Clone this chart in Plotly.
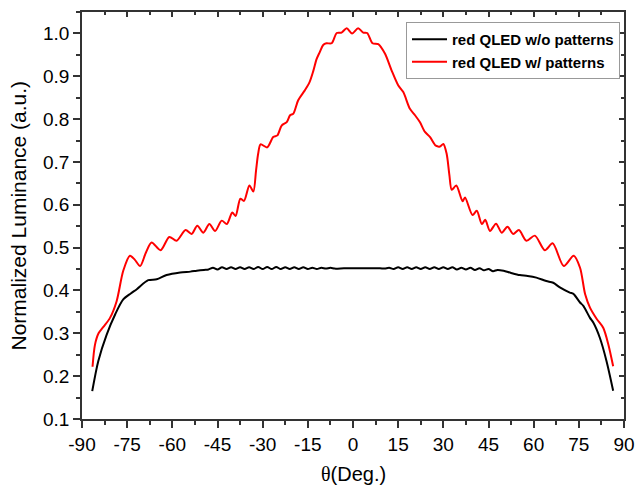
import plotly.graph_objects as go

# ---- data ----
red_x = [-86.5, -85.7, -84.5, -82.9, -80.7, -78.5, -76.3, -74.1, -72.5, -70.7, -68.8, -66.9,
         -63.9, -61.0, -58.6, -55.6, -53.6, -51.7, -49.7, -47.7, -45.8, -43.6, -41.9, -40.1,
         -39.0, -37.4, -36.2, -34.4, -33.1, -32.2, -31.5, -30.7, -28.5, -26.5, -25.1, -23.7,
         -22.0, -20.9, -19.8, -18.2, -16.0, -14.5, -13.2, -12.1, -11.0, -9.9, -8.8, -7.1,
         -5.4, -3.8, -2.1, -0.3, 1.7, 3.4, 4.7, 6.5, 8.4, 10.6, 12.8, 15.0, 16.7, 18.9,
         20.6, 22.2, 23.9, 25.6, 27.5, 28.9, 30.0, 31.1, 32.0, 32.8, 34.3, 36.4, 37.2,
         39.7, 41.1, 42.8, 43.9, 45.5, 47.5, 49.4, 51.3, 53.2, 55.1, 57.6, 60.4, 63.7,
         66.3, 70.0, 73.3, 75.4, 77.1, 78.7, 81.0, 83.1, 84.8, 86.4]
red_y = [0.222, 0.273, 0.300, 0.315, 0.336, 0.375, 0.446, 0.481, 0.472, 0.457, 0.488, 0.512,
         0.494, 0.525, 0.516, 0.541, 0.532, 0.551, 0.535, 0.555, 0.539, 0.563, 0.555, 0.582,
         0.574, 0.614, 0.609, 0.645, 0.631, 0.680, 0.719, 0.741, 0.734, 0.758, 0.762, 0.785,
         0.793, 0.809, 0.813, 0.844, 0.867, 0.885, 0.912, 0.940, 0.957, 0.973, 0.977, 0.977,
         1.001, 1.002, 1.012, 1.000, 1.012, 1.002, 1.001, 0.977, 0.975, 0.953, 0.914, 0.879,
         0.863, 0.824, 0.809, 0.793, 0.770, 0.758, 0.738, 0.736, 0.742, 0.719, 0.670, 0.635,
         0.645, 0.608, 0.617, 0.576, 0.586, 0.555, 0.565, 0.539, 0.556, 0.535, 0.549, 0.532,
         0.541, 0.516, 0.528, 0.494, 0.510, 0.457, 0.481, 0.453, 0.391, 0.360, 0.333, 0.313,
         0.274, 0.223]

black_x = [-86.6, -84.6, -81.8, -79.0, -76.3, -73.8, -71.8, -68.0, -65.2, -61.9, -57.4,
           -54.0, -51.9, -49.5,
           -48.0, -46.5, -45.0, -43.5, -42.0, -40.5, -39.0, -37.5, -36.0, -34.5, -33.0,
           -31.5, -30.0, -28.5, -27.0, -25.5, -24.0, -22.5, -21.0, -19.5, -18.0, -16.5,
           -15.0, -13.5, -12.0, -10.5, -9.0, -7.5, -6.0,
           -3.0, 0.0, 3.0, 6.0, 9.0,
           10.5, 12.0, 13.5, 15.0, 16.5, 18.0, 19.5, 21.0, 22.5, 24.0, 25.5, 27.0, 28.5,
           30.0, 31.5, 33.0, 34.5, 36.0, 37.5, 39.0, 40.5, 42.0, 43.5, 45.0, 46.5, 48.0,
           50.0, 52.5, 55.4, 58.0, 60.9, 64.2, 66.5, 68.7, 72.0, 73.2, 75.4, 76.5, 78.7,
           79.8, 82.0, 84.2, 86.4]
black_y = [0.165, 0.235, 0.297, 0.344, 0.379, 0.393, 0.403, 0.424, 0.426, 0.436, 0.442,
           0.444, 0.446, 0.448,
           0.449, 0.453, 0.449, 0.454, 0.450, 0.454, 0.450, 0.454, 0.450, 0.454, 0.450,
           0.455, 0.450, 0.455, 0.450, 0.455, 0.450, 0.454, 0.450, 0.454, 0.450, 0.454,
           0.450, 0.453, 0.450, 0.453, 0.451, 0.453, 0.451,
           0.452, 0.452, 0.452, 0.452, 0.452,
           0.451, 0.453, 0.450, 0.454, 0.450, 0.454, 0.450, 0.454, 0.450, 0.454, 0.450,
           0.454, 0.450, 0.454, 0.450, 0.454, 0.449, 0.453, 0.449, 0.453, 0.448, 0.452,
           0.447, 0.450, 0.445, 0.448,
           0.446, 0.441, 0.436, 0.434, 0.430, 0.422, 0.418, 0.407, 0.395, 0.392, 0.372,
           0.364, 0.336, 0.325, 0.289, 0.235, 0.166]

x_ticks = [-90, -75, -60, -45, -30, -15, 0, 15, 30, 45, 60, 75, 90]
y_ticks = [0.1, 0.2, 0.3, 0.4, 0.5, 0.6, 0.7, 0.8, 0.9, 1.0]

FONT = "Liberation Sans, Arial, sans-serif"
AX = "#333333"

fig = go.Figure()
fig.add_trace(go.Scatter(x=black_x, y=black_y, mode="lines", name="<b>red QLED w/o patterns</b>",
                         line=dict(color="black", width=2, shape="spline", smoothing=0.8)))
fig.add_trace(go.Scatter(x=red_x, y=red_y, mode="lines", name="<b>red QLED w/ patterns</b>",
                         line=dict(color="#ff0000", width=2, shape="spline", smoothing=0.8)))

L, R, T, B = 82, 12, 12, 66
W, H = 636, 485
pw, ph = W - L - R, H - T - B

fig.update_layout(
    width=W, height=H,
    margin=dict(l=L, r=R, t=T, b=B),
    paper_bgcolor="white", plot_bgcolor="white",
    font=dict(family=FONT, color="black"),
    showlegend=True,
    legend=dict(x=(620 - L) / pw, y=(H - B - 22) / ph, xanchor="right", yanchor="top",
                bordercolor="#999999", borderwidth=1, bgcolor="white",
                font=dict(family=FONT, size=15, color="black"),
                tracegroupgap=0, itemwidth=35),
    xaxis=dict(range=[-90, 90], tickvals=x_ticks, ticktext=[str(v) for v in x_ticks],
               ticks="outside", ticklen=7, tickcolor=AX, tickwidth=1.5,
               minor=dict(ticks="outside", ticklen=4, dtick=7.5, tick0=-90, tickcolor=AX, tickwidth=1.5),
               tickfont=dict(size=19, family=FONT), automargin=False,
               showline=True, mirror=True, linecolor=AX, linewidth=1.5,
               showgrid=False, zeroline=False),
    yaxis=dict(range=[0.1, 1.05], tickvals=y_ticks, ticktext=[f"{v:.1f}" for v in y_ticks],
               ticks="outside", ticklen=7, tickcolor=AX, tickwidth=1.5,
               minor=dict(ticks="outside", ticklen=4, dtick=0.05, tick0=0.1, tickcolor=AX, tickwidth=1.5),
               tickfont=dict(size=19, family=FONT), automargin=False,
               showline=True, mirror=True, linecolor=AX, linewidth=1.5,
               showgrid=False, zeroline=False),
    xaxis2=dict(range=[-90, 90], overlaying="x", side="top", tickvals=x_ticks,
                showticklabels=False, ticks="inside", ticklen=5, tickcolor=AX, tickwidth=1.5,
                minor=dict(ticks="inside", ticklen=3, dtick=7.5, tick0=-90, tickcolor=AX, tickwidth=1.5),
                showline=False, anchor="y", showgrid=False, zeroline=False, automargin=False),
    yaxis2=dict(range=[0.1, 1.05], overlaying="y", side="right", tickvals=y_ticks,
                showticklabels=False, ticks="inside", ticklen=5, tickcolor=AX, tickwidth=1.5,
                minor=dict(ticks="inside", ticklen=3, dtick=0.05, tick0=0.1, tickcolor=AX, tickwidth=1.5),
                showline=False, anchor="x", showgrid=False, zeroline=False, automargin=False),
    annotations=[
        dict(text="Normalized Luminance (a.u.)", xref="paper", yref="paper",
             x=(18 - L) / pw, y=0.5, xanchor="center", yanchor="middle", textangle=-90,
             showarrow=False, font=dict(size=21, family=FONT, color="black")),
        dict(text="<span style='font-family:Liberation Serif'>θ</span>(Deg.)", xref="paper", yref="paper",
             x=0.5, y=-(474 - (H - B)) / ph, xanchor="center", yanchor="middle",
             showarrow=False, font=dict(size=20, family=FONT, color="black")),
    ],
)

# invisible trace to activate the mirrored tick axes
fig.add_trace(go.Scatter(x=[None], y=[None], xaxis="x2", yaxis="y2", showlegend=False, hoverinfo="skip"))

fig.write_html("out.html", config={"displayModeBar": False},
               post_script="document.body.style.margin='0';document.body.style.overflow='hidden';")
